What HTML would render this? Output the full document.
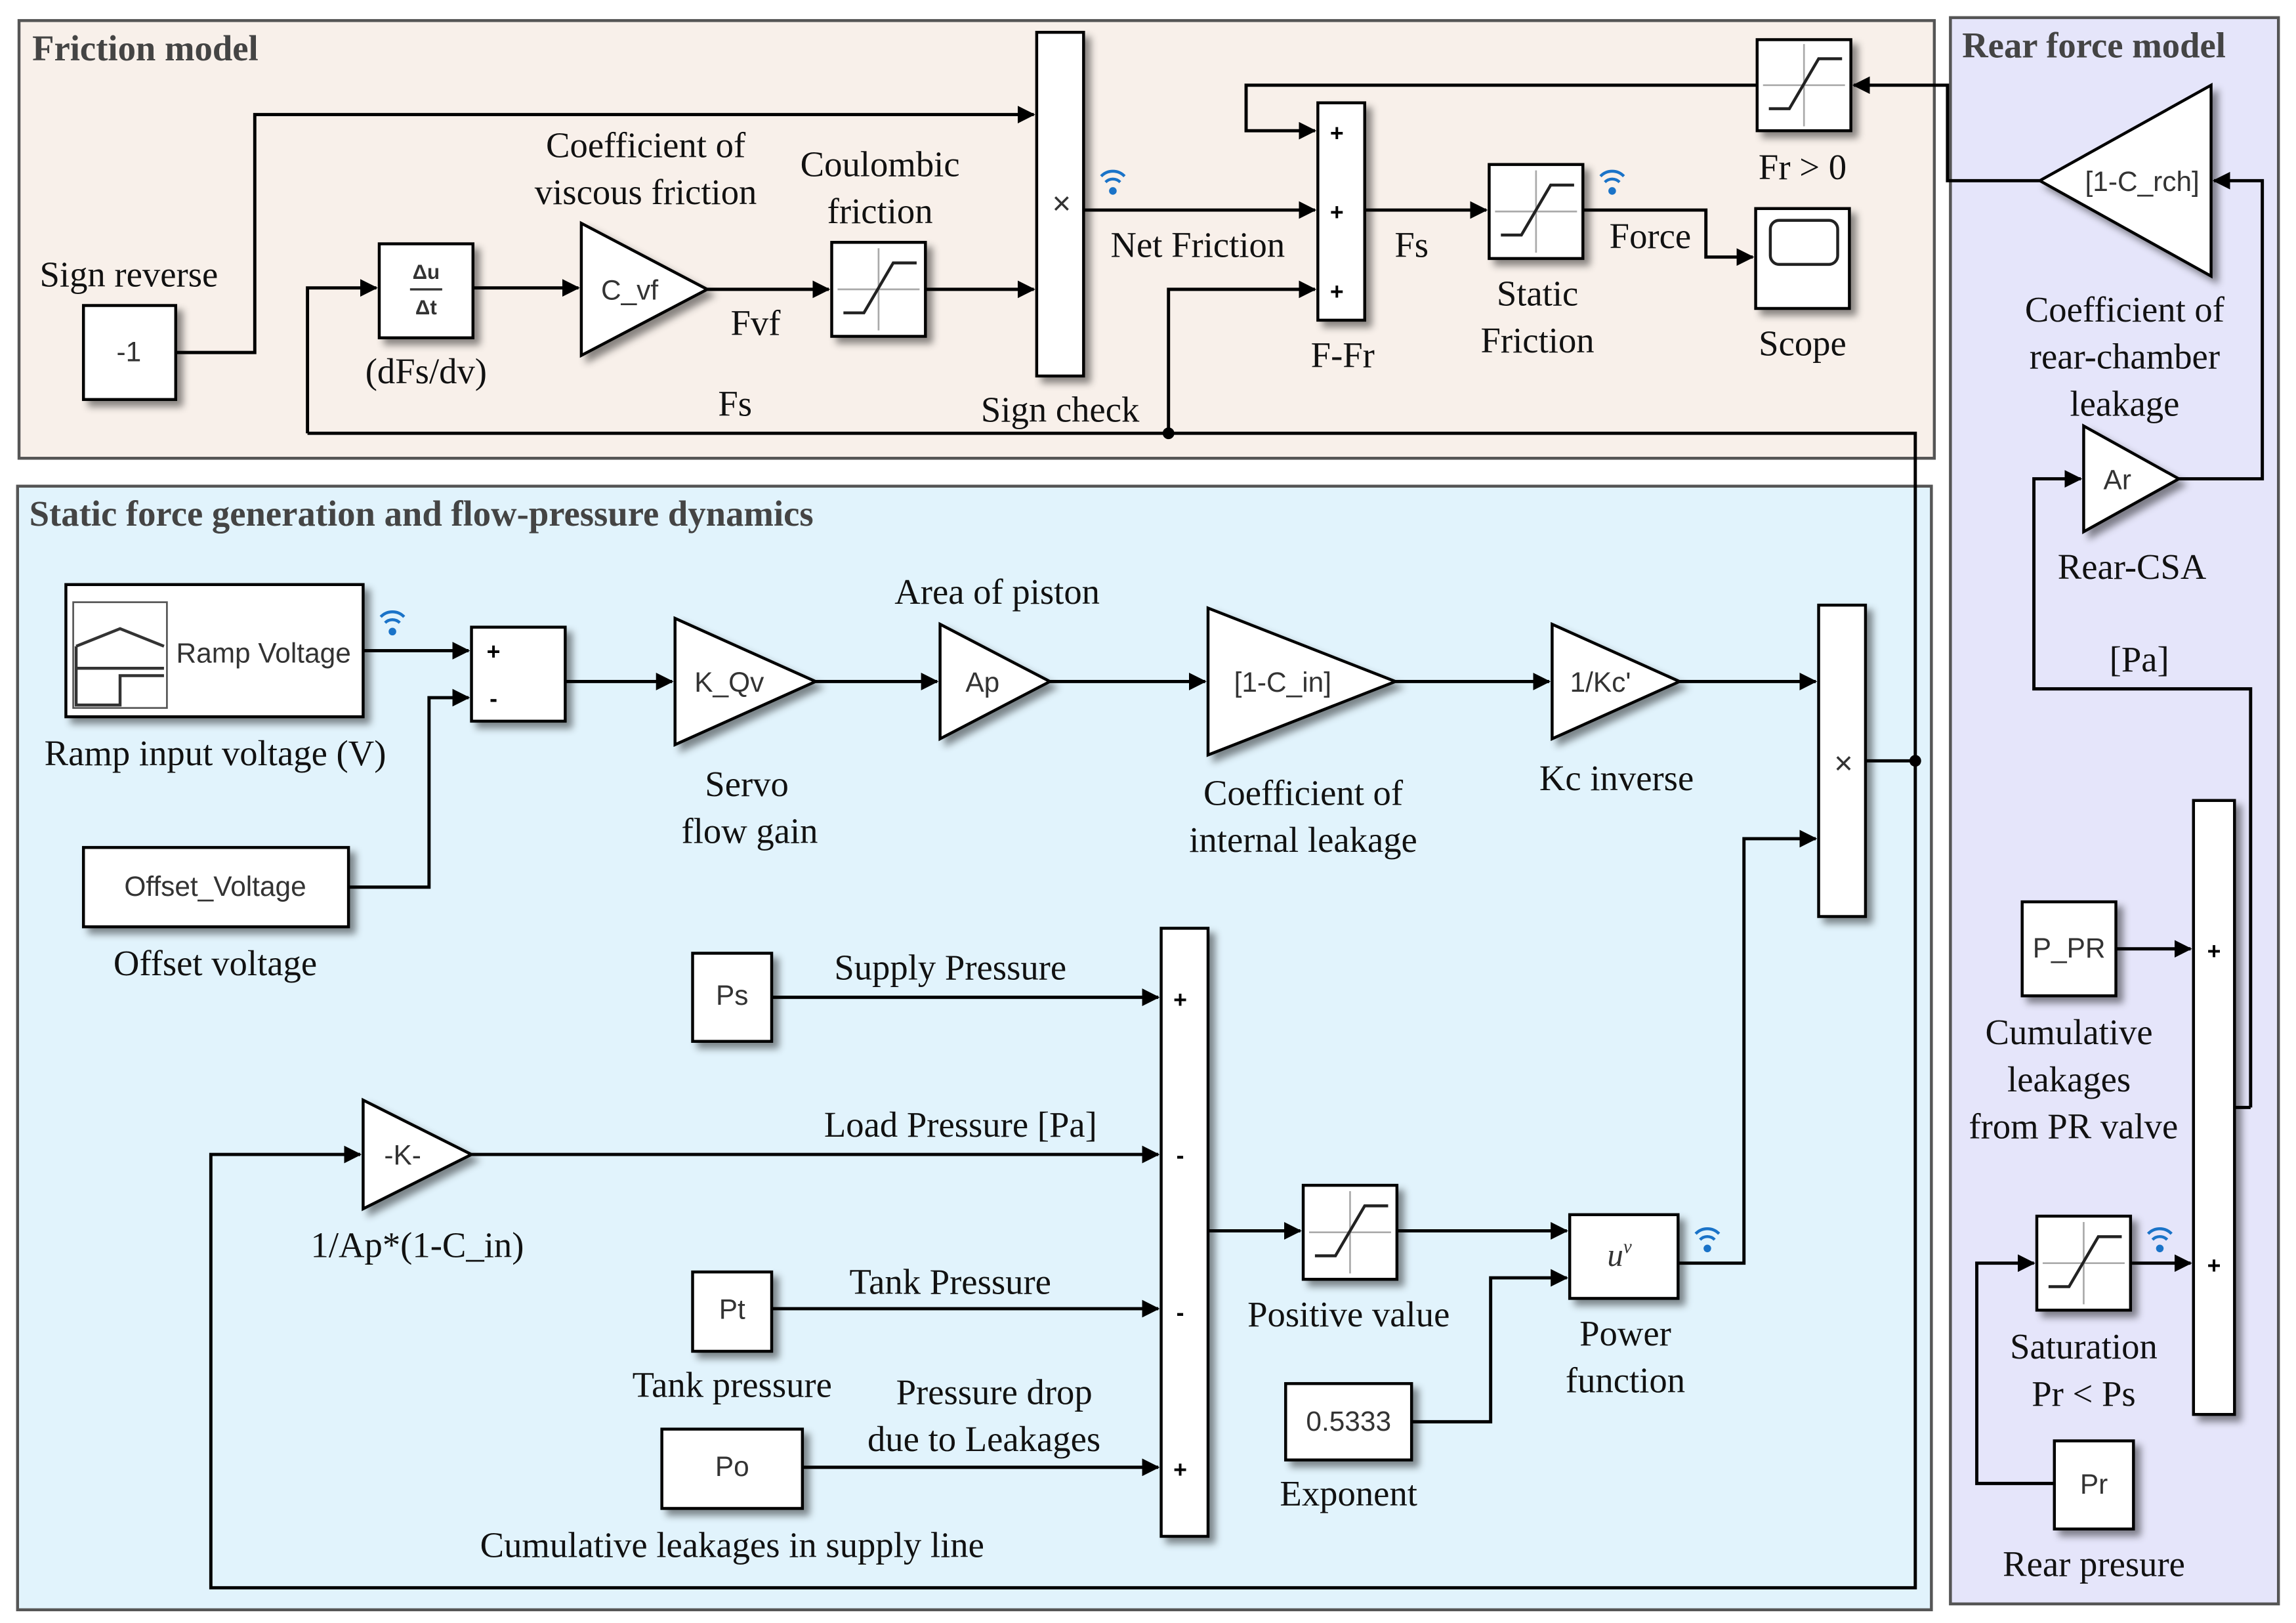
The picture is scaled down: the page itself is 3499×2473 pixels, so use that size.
<!DOCTYPE html>
<html><head><meta charset="utf-8"><style>
html,body{margin:0;padding:0;background:#fff;}
svg{display:block;}
.t{font-family:"Liberation Serif",serif;font-size:24.5px;fill:#111;text-anchor:middle;}
.h{font-family:"Liberation Serif",serif;font-size:24.5px;font-weight:bold;fill:#444;}
.s{font-family:"Liberation Sans",sans-serif;font-size:19px;fill:#333;text-anchor:middle;}
.sg{font-family:"Liberation Sans",sans-serif;font-size:16px;font-weight:bold;fill:#000;text-anchor:middle;}
.b{fill:#fff;stroke:#000;stroke-width:2;filter:url(#sh);}
.l{fill:none;stroke:#000;stroke-width:2.2;}
</style></head><body>
<svg width="3499" height="2473" viewBox="0 0 1568 1105" preserveAspectRatio="none" xmlns="http://www.w3.org/2000/svg">
<defs>
<filter id="sh" x="-30%" y="-30%" width="170%" height="170%"><feDropShadow dx="4" dy="4" stdDeviation="2.5" flood-color="#000" flood-opacity="0.45"/></filter>
<marker id="a" markerWidth="12" markerHeight="12" refX="11" refY="6" orient="auto" markerUnits="userSpaceOnUse" viewBox="0 0 12 12"><path d="M0,0 L12,6 L0,12 z" fill="#000"/></marker>
<symbol id="wf" viewBox="0 0 20 24"><circle cx="10" cy="19" r="2.6" fill="#1a73c8"/><path d="M5,13 A7,7 0 0 1 15,13" fill="none" stroke="#1a73c8" stroke-width="2"/><path d="M2,9 A11,11 0 0 1 18,9" fill="none" stroke="#1a73c8" stroke-width="2"/></symbol>
<symbol id="sat" viewBox="0 0 64 64"><line x1="4" y1="32" x2="60" y2="32" stroke="#aaa" stroke-width="1.2"/><line x1="32" y1="4" x2="32" y2="60" stroke="#aaa" stroke-width="1.2"/><path d="M8,48 L22,48 L42,14 L58,14" fill="none" stroke="#222" stroke-width="2"/></symbol>
</defs>
<rect width="1568" height="1105" fill="#fff"/>
<rect x="13" y="14" width="1308" height="298" fill="#f8f0ea" stroke="#555" stroke-width="2"/>
<rect x="12" y="331" width="1307" height="765" fill="#e1f3fc" stroke="#555" stroke-width="2"/>
<rect x="1332" y="12" width="224" height="1080" fill="#e5e5fa" stroke="#555" stroke-width="2"/>
<text x="22" y="41" class="h">Friction model</text>
<text x="20" y="358" class="h">Static force generation and flow-pressure dynamics</text>
<text x="1340" y="39" class="h">Rear force model</text>

<path class="l" d="M120,240 H174 V78 H706" marker-end="url(#a)"/>
<path class="l" d="M210,295 V196 H257" marker-end="url(#a)"/>
<path class="l" d="M323,196 H395" marker-end="url(#a)"/>
<path class="l" d="M483,197 H566" marker-end="url(#a)"/>
<path class="l" d="M632,197 H706" marker-end="url(#a)"/>
<path class="l" d="M740,143 H898" marker-end="url(#a)"/>
<path class="l" d="M1393,123 H1330 V58 H1266" marker-end="url(#a)"/>
<path class="l" d="M1200,58 H851 V89 H898" marker-end="url(#a)"/>
<path class="l" d="M798,295 V197 H898" marker-end="url(#a)"/>
<path class="l" d="M932,143 H1015" marker-end="url(#a)"/>
<path class="l" d="M1081,143 H1165 V175 H1197" marker-end="url(#a)"/>
<path class="l" d="M210,295 H1308 V1081 H144 V786 H246" marker-end="url(#a)"/>
<circle cx="798" cy="295" r="4" fill="#000"/>
<circle cx="1308" cy="518" r="4" fill="#000"/>

<rect class="b" x="57" y="208" width="63" height="64"/><text x="88" y="246" class="s">-1</text>
<rect class="b" x="259" y="166" width="64" height="64"/>
<text x="291" y="190" class="s" style="font-size:14px;font-weight:bold">Δu</text><line x1="280" y1="197" x2="302" y2="197" stroke="#333" stroke-width="1.5"/><text x="291" y="214" class="s" style="font-size:14px;font-weight:bold">Δt</text>
<polygon class="b" points="397,152 483,197 397,242"/><text x="430" y="204" class="s">C_vf</text>
<rect class="b" x="568" y="165" width="64" height="64"/><use href="#sat" x="568" y="165" width="64" height="64"/>
<rect class="b" x="708" y="22" width="32" height="234"/><text x="725" y="146" class="s" style="font-size:22px">×</text>
<rect class="b" x="900" y="70" width="32" height="148"/>
<text x="913" y="96" class="sg">+</text><text x="913" y="150" class="sg">+</text><text x="913" y="204" class="sg">+</text>
<rect class="b" x="1017" y="112" width="64" height="64"/><use href="#sat" x="1017" y="112" width="64" height="64"/>
<rect class="b" x="1200" y="27" width="64" height="62"/><use href="#sat" x="1200" y="26" width="64" height="64"/>
<rect class="b" x="1199" y="142" width="64" height="68"/><rect x="1209" y="150" width="46" height="30" rx="6" fill="#fff" stroke="#222" stroke-width="2"/>
<use href="#wf" x="750" y="110" width="20" height="26"/>
<use href="#wf" x="1091" y="110" width="20" height="26"/>

<text x="88" y="195" class="t">Sign reverse</text>
<text x="291" y="261" class="t">(dFs/dv)</text>
<text x="441" y="107" class="t">Coefficient of</text><text x="441" y="139" class="t">viscous friction</text>
<text x="601" y="120" class="t">Coulombic</text><text x="601" y="152" class="t">friction</text>
<text x="516" y="228" class="t">Fvf</text>
<text x="502" y="283" class="t">Fs</text>
<text x="724" y="287" class="t">Sign check</text>
<text x="818" y="175" class="t">Net Friction</text>
<text x="917" y="250" class="t">F-Fr</text>
<text x="964" y="175" class="t">Fs</text>
<text x="1050" y="208" class="t">Static</text><text x="1050" y="240" class="t">Friction</text>
<text x="1127" y="169" class="t">Force</text>
<text x="1231" y="242" class="t">Scope</text>
<text x="1231" y="122" class="t">Fr &gt; 0</text>

<path class="l" d="M1488,326 H1545 V123 H1512" marker-end="url(#a)"/>
<path class="l" d="M1537,754 V469 H1389 V326 H1421" marker-end="url(#a)"/>
<path class="l" d="M1526,754 H1537"/>
<path class="l" d="M1445,646 H1496" marker-end="url(#a)"/>
<path class="l" d="M1456,860 H1496" marker-end="url(#a)"/>
<path class="l" d="M1403,1010 H1350 V860 H1389" marker-end="url(#a)"/>
<polygon class="b" points="1393,123 1510,58 1510,188"/><text x="1463" y="130" class="s">[1-C_rch]</text>
<polygon class="b" points="1423,290 1488,326 1423,362"/><text x="1446" y="333" class="s">Ar</text>
<rect class="b" x="1498" y="545" width="28" height="418"/>
<text x="1512" y="653" class="sg">+</text><text x="1512" y="867" class="sg">+</text>
<rect class="b" x="1381" y="614" width="64" height="64"/><text x="1413" y="652" class="s">P_PR</text>
<rect class="b" x="1391" y="828" width="64" height="64"/><use href="#sat" x="1391" y="828" width="64" height="64"/>
<rect class="b" x="1403" y="981" width="54" height="60"/><text x="1430" y="1017" class="s">Pr</text>
<use href="#wf" x="1465" y="830" width="20" height="26"/>
<text x="1451" y="219" class="t">Coefficient of</text><text x="1451" y="251" class="t">rear-chamber</text><text x="1451" y="283" class="t">leakage</text>
<text x="1456" y="394" class="t">Rear-CSA</text>
<text x="1461" y="457" class="t">[Pa]</text>
<text x="1413" y="711" class="t">Cumulative</text><text x="1413" y="743" class="t">leakages</text><text x="1416" y="775" class="t">from PR valve</text>
<text x="1423" y="925" class="t">Saturation</text><text x="1423" y="957" class="t">Pr &lt; Ps</text>
<text x="1430" y="1073" class="t">Rear presure</text>

<path class="l" d="M248,443 H320" marker-end="url(#a)"/>
<path class="l" d="M238,604 H293 V475 H320" marker-end="url(#a)"/>
<path class="l" d="M386,464 H459" marker-end="url(#a)"/>
<path class="l" d="M557,464 H640" marker-end="url(#a)"/>
<path class="l" d="M717,464 H823" marker-end="url(#a)"/>
<path class="l" d="M953,464 H1058" marker-end="url(#a)"/>
<path class="l" d="M1147,464 H1240" marker-end="url(#a)"/>
<path class="l" d="M1274,518 H1308"/>
<path class="l" d="M1146,860 H1191 V571 H1240" marker-end="url(#a)"/>
<path class="l" d="M825,838 H888" marker-end="url(#a)"/>
<path class="l" d="M954,838 H1070" marker-end="url(#a)"/>
<path class="l" d="M964,968 H1018 V870 H1070" marker-end="url(#a)"/>
<path class="l" d="M527,679 H791" marker-end="url(#a)"/>
<path class="l" d="M322,786 H791" marker-end="url(#a)"/>
<path class="l" d="M527,891 H791" marker-end="url(#a)"/>
<path class="l" d="M548,999 H791" marker-end="url(#a)"/>

<rect class="b" x="45" y="398" width="203" height="90"/>
<rect x="50" y="410" width="64" height="72" fill="none" stroke="#555" stroke-width="1.2"/>
<path d="M52,440 L82,428 L112,440 M52,440 V455 H112 M52,455 V480 H82 V460 H112" fill="none" stroke="#333" stroke-width="2"/>
<text x="180" y="451" class="s">Ramp Voltage</text>
<use href="#wf" x="258" y="410" width="20" height="26"/>
<rect class="b" x="322" y="427" width="64" height="64"/><text x="337" y="449" class="sg">+</text><text x="337" y="481" class="sg">-</text>
<rect class="b" x="57" y="577" width="181" height="54"/><text x="147" y="610" class="s">Offset_Voltage</text>
<polygon class="b" points="461,421 557,464 461,507"/><text x="498" y="471" class="s">K_Qv</text>
<polygon class="b" points="642,425 717,464 642,503"/><text x="671" y="471" class="s">Ap</text>
<polygon class="b" points="825,414 953,464 825,514"/><text x="876" y="471" class="s">[1-C_in]</text>
<polygon class="b" points="1060,425 1147,464 1060,503"/><text x="1093" y="471" class="s">1/Kc'</text>
<rect class="b" x="1242" y="412" width="32" height="212"/><text x="1259" y="527" class="s" style="font-size:22px">×</text>
<rect class="b" x="1072" y="827" width="74" height="57"/><text x="1106" y="862" style="font-family:'Liberation Serif',serif;font-style:italic;font-size:22px;fill:#333" text-anchor="middle">u<tspan dy="-9" font-size="13">v</tspan></text>
<use href="#wf" x="1156" y="830" width="20" height="26"/>
<rect class="b" x="890" y="807" width="64" height="64"/><use href="#sat" x="890" y="807" width="64" height="64"/>
<rect class="b" x="878" y="942" width="86" height="52"/><text x="921" y="974" class="s">0.5333</text>
<rect class="b" x="793" y="632" width="32" height="414"/>
<text x="806" y="686" class="sg">+</text><text x="806" y="792" class="sg">-</text><text x="806" y="899" class="sg">-</text><text x="806" y="1006" class="sg">+</text>
<rect class="b" x="473" y="649" width="54" height="60"/><text x="500" y="684" class="s">Ps</text>
<polygon class="b" points="248,749 322,786 248,823"/><text x="275" y="793" class="s">-K-</text>
<rect class="b" x="473" y="866" width="54" height="54"/><text x="500" y="898" class="s">Pt</text>
<rect class="b" x="452" y="973" width="96" height="54"/><text x="500" y="1005" class="s">Po</text>

<text x="147" y="521" class="t">Ramp input voltage (V)</text>
<text x="147" y="664" class="t">Offset voltage</text>
<text x="510" y="542" class="t">Servo</text><text x="512" y="574" class="t">flow gain</text>
<text x="681" y="411" class="t">Area of piston</text>
<text x="890" y="548" class="t">Coefficient of</text><text x="890" y="580" class="t">internal leakage</text>
<text x="1104" y="538" class="t">Kc inverse</text>
<text x="649" y="667" class="t">Supply Pressure</text>
<text x="656" y="774" class="t">Load Pressure [Pa]</text>
<text x="285" y="856" class="t">1/Ap*(1-C_in)</text>
<text x="649" y="881" class="t">Tank Pressure</text>
<text x="500" y="951" class="t">Tank pressure</text>
<text x="679" y="956" class="t">Pressure drop</text><text x="672" y="988" class="t">due to Leakages</text>
<text x="500" y="1060" class="t">Cumulative leakages in supply line</text>
<text x="921" y="903" class="t">Positive value</text>
<text x="1110" y="916" class="t">Power</text><text x="1110" y="948" class="t">function</text>
<text x="921" y="1025" class="t">Exponent</text>
</svg>
</body></html>
